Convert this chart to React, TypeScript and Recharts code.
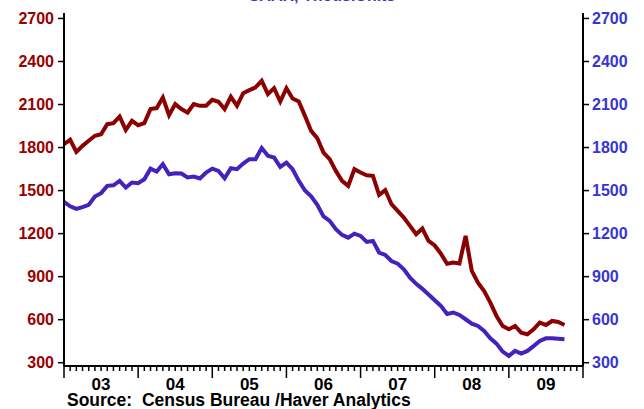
import React from "react";
import { LineChart, Line, XAxis, YAxis } from "recharts";

document.body.style.margin = "0";

// Building permits, SAAR thous. units, monthly from Jan 2003 to Oct 2009
const START_YEAR = 2003;
const totalPermits = [
  1824, 1854, 1770, 1812, 1847, 1882, 1893, 1963, 1970, 2016, 1923, 1986,
  1956, 1970, 2068, 2075, 2149, 2026, 2103, 2068, 2044, 2103, 2091, 2091,
  2133, 2119, 2068, 2154, 2091, 2179, 2200, 2219, 2265, 2172, 2214, 2121,
  2214, 2142, 2121, 2021, 1916, 1865, 1765, 1719, 1637, 1568, 1533, 1649,
  1626, 1607, 1603, 1470, 1503, 1405, 1358, 1312, 1254, 1196, 1235, 1149,
  1117, 1060, 990, 998, 991, 1184, 940, 858, 800, 719, 626, 556,
  533, 556, 509, 498, 533, 579, 563, 591, 584, 563,
];
const singleFamily = [
  1421, 1390, 1372, 1385, 1400, 1458, 1482, 1533, 1537, 1568, 1521, 1556,
  1551, 1579, 1653, 1633, 1684, 1614, 1621, 1619, 1591, 1598, 1584, 1626,
  1653, 1637, 1586, 1656, 1649, 1688, 1719, 1719, 1796, 1742, 1730, 1665,
  1695, 1649, 1568, 1500, 1460, 1400, 1320, 1289, 1231, 1191, 1172, 1200,
  1184, 1142, 1149, 1068, 1051, 1009, 991, 951, 893, 850, 815, 775,
  735, 696, 640, 650, 633, 603, 572, 556, 521, 470, 433, 377,
  347, 382, 363, 382, 416, 451, 470, 470, 467, 463,
];
const yearLabels = ["03", "04", "05", "06", "07", "08", "09"];
const yTicks = [300, 600, 900, 1200, 1500, 1800, 2100, 2400, 2700];

const RED = "#8B0000";
const BLUE = "#4422BB";
const BLUE_TEXT = "#3636D0";
const FONT = "'Liberation Sans', Arial, sans-serif";

const data = totalPermits.map((v, i) => ({
  m: i,
  year: START_YEAR + Math.floor(i / 12),
  total: v,
  single: singleFamily[i],
}));

const monthTicks = Array.from({ length: yearLabels.length * 12 + 1 }, (_, i) => i);

const MonthTick = (props: any) => {
  const { x, y, payload } = props;
  const m = payload.value as number;
  const major = m % 12 === 0;
  return (
    <g>
      <line x1={x} x2={x} y1={y} y2={y + (major ? 12 : 5)} stroke="#000" strokeWidth={1.5} />
      {m % 12 === 6 && (
        <text x={x} y={y + 24} textAnchor="middle" fontSize={17} fontWeight="bold" fill="#000" fontFamily={FONT}>
          {yearLabels[(m - 6) / 12]}
        </text>
      )}
    </g>
  );
};

export default function App() {
  return (
    <div style={{ position: "relative", width: 644, height: 409, overflow: "hidden", background: "#fff" }}>
      <LineChart width={644} height={409} data={data} margin={{ top: 13, right: 0, left: 0, bottom: 0 }}>
        <XAxis
          xAxisId="top"
          orientation="top"
          dataKey="m"
          type="number"
          domain={[0, 84]}
          height={0}
          tick={false}
          tickLine={false}
          axisLine={{ stroke: "#000", strokeWidth: 2 }}
        />
        <XAxis
          dataKey="m"
          type="number"
          domain={[0, 84]}
          ticks={monthTicks}
          interval={0}
          height={43}
          tickSize={0}
          tickMargin={0}
          tickLine={false}
          tick={<MonthTick />}
          axisLine={{ stroke: "#000", strokeWidth: 2 }}
        />
        <YAxis
          yAxisId="left"
          width={64}
          domain={[277, 2738]}
          ticks={yTicks}
          interval={0}
          tickSize={6}
          tickMargin={4}
          tickLine={{ stroke: "#000", strokeWidth: 1.5 }}
          axisLine={{ stroke: "#000", strokeWidth: 2 }}
          tick={{ fill: "#990000", fontSize: 16, fontWeight: "bold", fontFamily: FONT }}
        />
        <YAxis
          yAxisId="right"
          orientation="right"
          width={61}
          domain={[277, 2738]}
          ticks={yTicks}
          interval={0}
          tickSize={6}
          tickMargin={3}
          tickLine={{ stroke: "#000", strokeWidth: 1.5 }}
          axisLine={{ stroke: "#000", strokeWidth: 2 }}
          tick={{ fill: BLUE_TEXT, fontSize: 16, fontWeight: "bold", fontFamily: FONT, textAnchor: "start" }}
        />
        <Line
          yAxisId="left"
          dataKey="total"
          stroke={RED}
          strokeWidth={4}
          dot={false}
          isAnimationActive={false}
        />
        <Line
          yAxisId="right"
          dataKey="single"
          stroke={BLUE}
          strokeWidth={4}
          dot={false}
          isAnimationActive={false}
        />
      </LineChart>
      <div
        style={{
          position: "absolute",
          left: 0,
          width: 644,
          top: -12,
          textAlign: "center",
          fontFamily: FONT,
          fontWeight: "bold",
          fontSize: 16,
          color: BLUE_TEXT,
          lineHeight: "16px",
        }}
      >
        SAAR, Thous.Units
      </div>
      <div
        style={{
          position: "absolute",
          left: 67,
          top: 391,
          fontFamily: FONT,
          fontWeight: "bold",
          fontSize: 17.5,
          color: "#000",
          lineHeight: "18px",
          whiteSpace: "pre",
        }}
      >
        {"Source:  Census Bureau /Haver Analytics"}
      </div>
    </div>
  );
}
